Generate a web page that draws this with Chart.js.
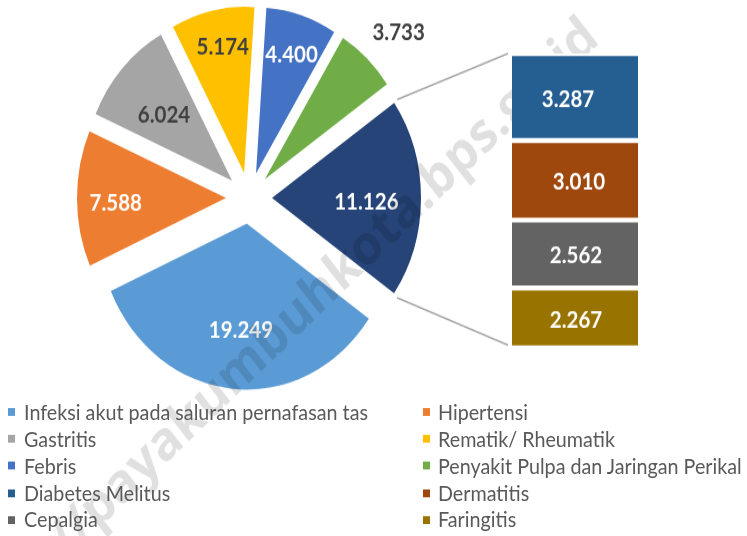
<!DOCTYPE html>
<html>
<head>
<meta charset="utf-8">
<script src="https://cdn.jsdelivr.net/npm/chart.js@4.4.1/dist/chart.umd.min.js"></script>
<style>
html,body{margin:0;padding:0;background:#fff;overflow:hidden;width:747px;height:536px}
#stage{position:absolute;left:0;top:0;width:747px;height:481px;transform:scaleY(1.115);transform-origin:0 0}
#pie{position:absolute;left:0;top:0}
#bar{position:absolute;left:512px;top:48px}
.li{position:absolute;height:24px;line-height:24px;white-space:nowrap;font-family:Lato,"Open Sans",sans-serif;font-size:19.5px;color:#595959}
.mk{position:absolute;width:7px;height:7px;top:8.5px}
.tx{position:absolute;top:0;display:inline-block;transform-origin:0 50%}
</style>
</head>
<body>
<div id="stage">
  <canvas id="pie" width="747" height="481"></canvas>
  <canvas id="bar" width="126" height="264"></canvas>
  <div id="legend"></div>
</div>
<script>
// ---- data ----
const pieLabels = ['Infeksi akut pada saluran pernafasan tas','Hipertensi','Gastritis','Rematik/ Rheumatik','Febris','Penyakit Pulpa dan Jaringan Perikal'];
const pieValues = [19249, 7588, 6024, 5174, 4400, 3733];
const pieColors = ['#5B9BD5','#ED7D31','#A5A5A5','#FFC000','#4472C4','#70AD47'];
const barLabels = ['Diabetes Melitus','Dermatitis','Cepalgia','Faringitis'];
const barValues = [3287, 3010, 2562, 2267];
const barColors = ['#255E91','#9E480E','#636363','#997300'];
const otherColor = '#264478';

// ---- styling ----
const pieLabelColors = ['#fff','#fff','#404040','#404040','#fff','#404040','#fff'];
const pieLabelRadius = [0.62, 0.74, 0.62, 0.80, 0.78, 1.25, 0.62];
const pieLabelDx = [3, 0, 0, 4, 0, 6, 2];
const barLabelDx = [-7, 4, 1, 1];
const EXPLODE = 23;
const RADIUS = 149;
const numFont = 'bold 20.5px Lato, "Open Sans", sans-serif';

const fmt = v => String(v).replace(/\B(?=(\d{3})+(?!\d))/g, '.');
const otherTotal = barValues.reduce((a, b) => a + b, 0);

// ---- bar of pie (right column) ----
const barChart = new Chart(document.getElementById('bar'), {
  type: 'bar',
  data: {
    labels: [''],
    datasets: barValues.map((v, i) => ({
      label: barLabels[i], data: [v], backgroundColor: barColors[i],
      borderColor: '#ffffff', borderWidth: {top: 2.5, bottom: 2.5, left: 0, right: 0},
      borderSkipped: false, barPercentage: 1, categoryPercentage: 1
    }))
  },
  options: {
    responsive: false, animation: false, events: [],
    layout: {padding: 0},
    plugins: {legend: {display: false}, tooltip: {enabled: false}},
    scales: {
      x: {display: false, stacked: true},
      y: {display: false, stacked: true, reverse: true, min: 0, max: otherTotal}
    }
  },
  plugins: [{
    id: 'barText',
    afterDatasetsDraw(chart) {
      const ctx = chart.ctx;
      ctx.save();
      ctx.font = numFont; ctx.fillStyle = '#fff';
      ctx.textAlign = 'center'; ctx.textBaseline = 'middle';
      chart.data.datasets.forEach((ds, i) => {
        const el = chart.getDatasetMeta(i).data[0];
        ctx.fillText(fmt(ds.data[0]), el.x + barLabelDx[i], (el.y + el.base) / 2 + 2);
      });
      ctx.restore();
    }
  }]
});

// ---- pie ----
const explodePlugin = {
  id: 'explode',
  beforeDatasetDraw(chart, args) {
    const ctx = chart.ctx;
    args.meta.data.forEach(arc => {
      const mid = (arc.startAngle + arc.endAngle) / 2;
      ctx.save();
      ctx.translate(Math.cos(mid) * EXPLODE, Math.sin(mid) * EXPLODE);
      arc.draw(ctx);
      ctx.restore();
    });
    return false;
  }
};

const pieDecor = {
  id: 'pieDecor',
  afterDatasetsDraw(chart) {
    const ctx = chart.ctx;
    const arcs = chart.getDatasetMeta(0).data;
    const vals = chart.data.datasets[0].data;
    // connector lines
    const other = arcs[arcs.length - 1];
    const ocx = other.x + Math.cos((other.startAngle + other.endAngle) / 2) * EXPLODE;
    const ocy = other.y + Math.sin((other.startAngle + other.endAngle) / 2) * EXPLODE;
    const bc = barChart.canvas;
    const bl = bc.offsetLeft + barChart.chartArea.left - 4;
    const bt = bc.offsetTop + barChart.chartArea.top;
    const bb = bc.offsetTop + barChart.chartArea.bottom - 2.5;
    ctx.save();
    ctx.strokeStyle = '#A6A6A6'; ctx.lineWidth = 1.5;
    ctx.beginPath();
    ctx.moveTo(ocx + Math.cos(other.startAngle) * other.outerRadius + 3, ocy + Math.sin(other.startAngle) * other.outerRadius - 3);
    ctx.lineTo(bl, bt);
    ctx.moveTo(ocx + Math.cos(other.endAngle) * other.outerRadius + 3, ocy + Math.sin(other.endAngle) * other.outerRadius + 4);
    ctx.lineTo(bl, bb);
    ctx.stroke();
    // value labels
    ctx.font = numFont; ctx.textAlign = 'center'; ctx.textBaseline = 'middle';
    arcs.forEach((arc, i) => {
      const mid = (arc.startAngle + arc.endAngle) / 2;
      const cx = arc.x + Math.cos(mid) * EXPLODE, cy = arc.y + Math.sin(mid) * EXPLODE;
      const r = arc.outerRadius * pieLabelRadius[i];
      ctx.fillStyle = pieLabelColors[i];
      ctx.fillText(fmt(vals[i]), cx + Math.cos(mid) * r + pieLabelDx[i], cy + Math.sin(mid) * r + 4);
    });
    ctx.restore();
  },
  afterDraw(chart) {
    const ctx = chart.ctx;
    ctx.save();
    ctx.translate(592, 27);
    ctx.rotate(-41 * Math.PI / 180);
    ctx.font = 'bold 49px "Open Sans", sans-serif';
    ctx.fillStyle = 'rgba(0,0,0,0.12)';
    ctx.textAlign = 'right'; ctx.textBaseline = 'middle';
    ctx.fillText('https://payakumbuhkota.bps.go.id', 0, 0);
    ctx.restore();
  }
};

new Chart(document.getElementById('pie'), {
  type: 'pie',
  data: {
    labels: [...pieLabels, 'Lainnya'],
    datasets: [{
      data: [...pieValues, otherTotal],
      backgroundColor: [...pieColors, otherColor],
      borderWidth: 0,
      radius: RADIUS
    }]
  },
  options: {
    responsive: false, animation: false, events: [],
    rotation: 125,
    layout: {padding: {left: 0, top: 0, right: 249, bottom: 126}},
    plugins: {legend: {display: false}, tooltip: {enabled: false}}
  },
  plugins: [explodePlugin, pieDecor]
});

// ---- legend (two columns) ----
const legendNames = [...pieLabels, ...barLabels];
const legendColors = [...pieColors, ...barColors];
const legend = document.getElementById('legend');
const spans = [];
legendNames.forEach((name, i) => {
  const col = i % 2, row = Math.floor(i / 2);
  const d = document.createElement('div');
  d.className = 'li';
  d.style.left = (col ? 423 : 8) + 'px';
  d.style.top = (357.5 + row * 24.2) + 'px';
  const m = document.createElement('span');
  m.className = 'mk'; m.style.background = legendColors[i]; m.style.left = '0px';
  const t = document.createElement('span');
  t.className = 'tx'; t.textContent = name; t.style.left = (col ? 15 : 16) + 'px';
  d.appendChild(m); d.appendChild(t);
  legend.appendChild(d);
  spans.push(t);
});
const k = 344 / spans[0].getBoundingClientRect().width;
spans.forEach(s => s.style.transform = 'scaleX(' + k + ')');
</script>
</body>
</html>
